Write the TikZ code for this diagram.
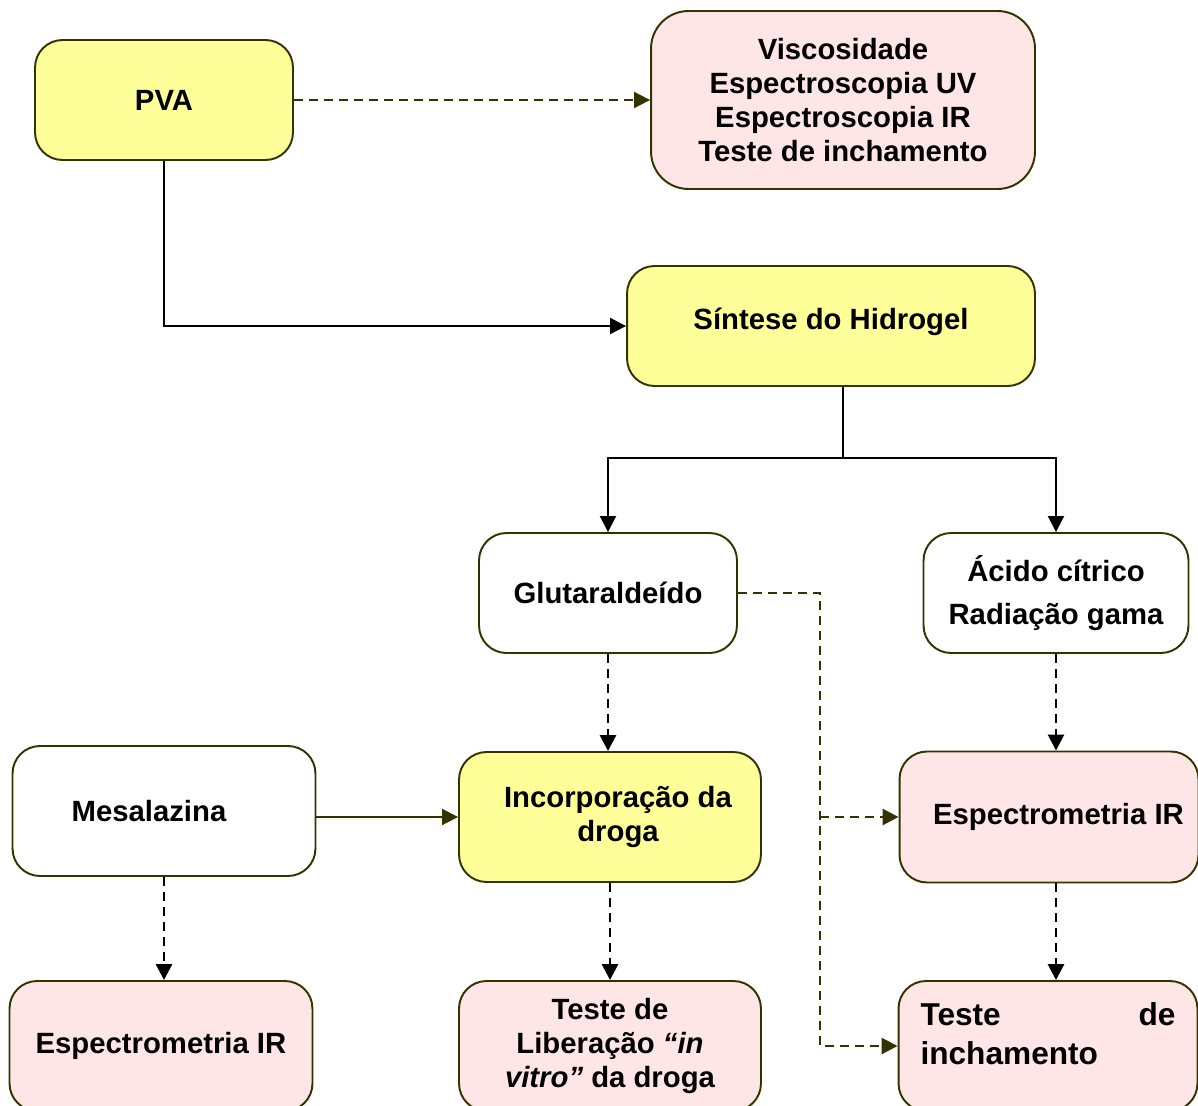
\documentclass[tikz,border=0pt]{standalone}
\usepackage{fontspec}
\setmainfont{Liberation Sans}
\usetikzlibrary{arrows.meta}
\definecolor{borda}{HTML}{333300}
\definecolor{amarelo}{HTML}{FFFF99}
\definecolor{rosa}{HTML}{FFE6E6}
\tikzset{
  caixa/.style={draw=borda, line width=1.1pt, rounded corners=0.55cm, align=center, inner sep=0pt,
    font=\bfseries\fontsize{16.67pt}{19.35pt}\selectfont},
  seta/.style={line width=1.1pt, -{Triangle[length=0.32cm,width=0.32cm]}},
  tracejada/.style={seta, dash pattern=on 0.18cm off 0.12cm},
  grossa/.style={tracejada, line width=1.6pt}
}

\begin{document}
\begin{tikzpicture}[x=0.02cm, y=-0.02cm]
      \clip (0,0) rectangle (1198,1106);
      \fill[white] (0,0) rectangle (1198,1106);

      \node[caixa, fill=amarelo, minimum width=5.16cm, minimum height=2.4cm] (pva) at (164,100) {PVA};
      \node[caixa, fill=rosa, rounded corners=0.75cm, minimum width=7.68cm, minimum height=3.56cm] (caract) at (843,100)
        {Viscosidade\\Espectroscopia UV\\Espectroscopia IR\\Teste de inchamento};
      \node[caixa, fill=amarelo, minimum width=8.16cm, minimum height=2.4cm, text depth=0.28cm] (sintese) at (831,326)
        {Síntese do Hidrogel};

      \node[caixa, fill=white, minimum width=5.16cm, minimum height=2.4cm] (glut) at (608,593) {Glutaraldeído};
      \node[caixa, fill=white, minimum width=5.3cm, minimum height=2.4cm] (acido) at (1056,593)
        {Ácido cítrico\\[0.18cm]Radiação gama};

      \node[caixa, fill=white, minimum width=6.06cm, minimum height=2.6cm] (mesal) at (164,811) {Mesalazina\hspace*{0.6cm}};
      \node[caixa, fill=amarelo, minimum width=6.04cm, minimum height=2.6cm] (incorp) at (610,817)
        {\hspace*{0.32cm}Incorporação da\\\hspace*{0.32cm}droga};
      \node[caixa, fill=rosa, minimum width=5.98cm, minimum height=2.62cm] (espIRdir) at (1049,817)
        {\hspace*{0.38cm}Espectrometria IR};

      \node[caixa, fill=rosa, minimum width=6.06cm, minimum height=2.6cm] (espIResq) at (161,1046) {Espectrometria IR};
      \node[caixa, fill=rosa, minimum width=6.04cm, minimum height=2.6cm] (liber) at (610,1046)
        {Teste de\\Liberação \textit{“in}\\\textit{vitro”} da droga};
      \node[caixa, fill=rosa, minimum width=5.98cm, minimum height=2.6cm, align=left, text width=5.1cm, text depth=1.28cm,
        font=\bfseries\fontsize{18pt}{22.2pt}\selectfont] (inch) at (1048,1046) {Teste\hfill de\\inchamento};

      \coordinate (ramo) at (843,458);
      \coordinate (desvio) at (820,0);

      \draw[tracejada, borda] (pva.east) -- (caract.west);
      \draw[seta] (pva.south) |- (sintese.west);
      \draw[line width=1.1pt] (sintese.south -| ramo) -- (ramo);
      \draw[seta] (ramo) -| (glut.north);
      \draw[seta] (ramo) -| (acido.north);
      \draw[grossa, borda] (glut.east) -| (desvio |- inch.west) -- (inch.west);
      \draw[grossa, borda] (desvio |- espIRdir.west) -- (espIRdir.west);
      \draw[grossa] (glut.south) -- (glut.south |- incorp.north);
      \draw[grossa] (acido.south) -- (acido.south |- espIRdir.north);
      \draw[seta, borda] (mesal.east |- incorp.west) -- (incorp.west);
      \draw[grossa] (mesal.south) -- (mesal.south |- espIResq.north);
      \draw[grossa] (incorp.south) -- (incorp.south |- liber.north);
      \draw[grossa] (espIRdir.south -| acido.south) -- (acido.south |- inch.north);
\end{tikzpicture}
\end{document}
